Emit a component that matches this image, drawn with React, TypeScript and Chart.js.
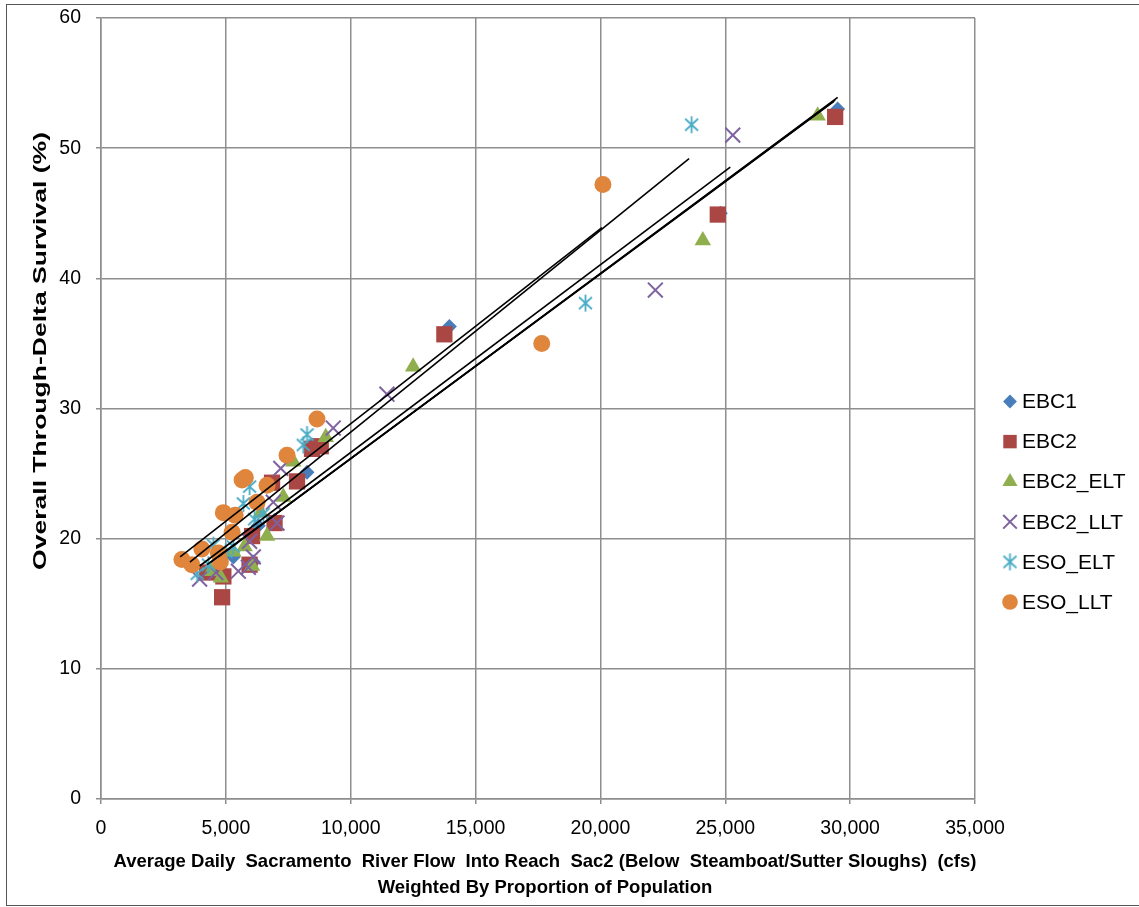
import React, { useEffect, useRef } from 'react';
import { Chart, registerables } from 'chart.js';
import { drawPoint } from 'chart.js/helpers';

Chart.register(...registerables);

// ---------- data ----------
const seriesNames = ['EBC1', 'EBC2', 'EBC2_ELT', 'EBC2_LLT', 'ESO_ELT', 'ESO_LLT'];

const ebc1X = [4700, 5300, 6100, 6300, 6950, 8250, 8450, 13950, 24800, 29500];
const ebc1Y = [17.3, 18.6, 18.2, 21.0, 21.4, 25.1, 27.2, 36.3, 45.0, 53.0];

const ebc2X = [4250, 4850, 4900, 5950, 6050, 6950, 6850, 7850, 8450, 8800, 13750, 24700, 29400];
const ebc2Y = [17.4, 15.5, 17.1, 18.0, 20.2, 21.2, 24.3, 24.4, 26.9, 27.1, 35.7, 44.9, 52.4];

const ebc2EltX = [4400, 4800, 5300, 5750, 6050, 6650, 6400, 7300, 7700, 9000, 12500, 24100, 28700];
const ebc2EltY = [17.5, 17.0, 19.0, 19.4, 17.9, 20.2, 22.0, 23.2, 25.9, 27.8, 33.2, 42.9, 52.5];

const ebc2LltX = [3950, 4600, 5500, 5900, 6100, 5950, 7050, 6900, 7200, 9300, 11450, 22200, 25300];
const ebc2LltY = [16.9, 17.4, 17.5, 17.8, 18.6, 19.8, 21.2, 22.8, 25.4, 28.5, 31.1, 39.1, 51.0];

const esoEltX = [3850, 4300, 4500, 5000, 5300, 5700, 5950, 6150, 6500, 8100, 8250, 19400, 23650];
const esoEltY = [17.3, 18.0, 19.5, 19.0, 19.4, 22.7, 24.0, 21.5, 21.9, 27.2, 28.0, 38.1, 51.8];

const esoLltX = [3240, 3640, 4040, 4700, 4780, 4900, 5250, 5370, 5650, 5780, 6250, 6650, 7450, 8650, 17650, 20100];
const esoLltY = [18.4, 18.0, 19.2, 18.9, 18.2, 22.0, 20.5, 21.8, 24.5, 24.7, 22.8, 24.1, 26.4, 29.2, 35.0, 47.2];

// linear trendline end points: [start, end]
const trendX = [
  [4700, 29500],
  [4250, 29400],
  [4400, 29350],
  [3950, 25200],
  [3560, 23550],
  [3170, 20060],
];
const trendY = [
  [18.6, 53.9],
  [18.0, 53.7],
  [18.2, 53.6],
  [17.9, 48.55],
  [18.2, 49.2],
  [18.6, 43.9],
];

const xTicks = [0, 5000, 10000, 15000, 20000, 25000, 30000, 35000];
const yTicks = [0, 10, 20, 30, 40, 50, 60];

const xTitle = [
  'Average Daily  Sacramento  River Flow  Into Reach  Sac2 (Below  Steamboat/Sutter Sloughs)  (cfs)',
  'Weighted By Proportion of Population',
];
const yTitle = 'Overall Through-Delta Survival (%)';

// ---------- styles ----------
const colors = ['#4A7EBB', '#AA4643', '#8FAF4F', '#7E62A1', '#4BACC6', '#DF853C'];

function makeAsterisk(color: string): HTMLCanvasElement {
  const c = document.createElement('canvas');
  c.width = 19;
  c.height = 19;
  const ctx = c.getContext('2d')!;
  ctx.strokeStyle = color;
  ctx.lineWidth = 1.8;
  ctx.beginPath();
  ctx.moveTo(9.5, 1);
  ctx.lineTo(9.5, 18);
  ctx.moveTo(3, 3.5);
  ctx.lineTo(16, 15.5);
  ctx.moveTo(16, 3.5);
  ctx.lineTo(3, 15.5);
  ctx.stroke();
  return c;
}

const FONT = "'Liberation Sans', Arial, sans-serif";

export default function App() {
  const ref = useRef<HTMLCanvasElement | null>(null);

  useEffect(() => {
    if (!ref.current) return;
    const asterisk = makeAsterisk(colors[4]);
    const xs = [ebc1X, ebc2X, ebc2EltX, ebc2LltX, esoEltX, esoLltX];
    const ys = [ebc1Y, ebc2Y, ebc2EltY, ebc2LltY, esoEltY, esoLltY];
    const styles: any[] = ['rectRot', 'rect', 'triangle', 'crossRot', asterisk, 'circle'];
    const radii = [7.5, 11.5, 9.5, 10.5, 9, 8.5];

    const scatterSets = seriesNames.map((name, i) => ({
      type: 'scatter' as const,
      label: name,
      data: xs[i].map((x, k) => ({ x, y: ys[i][k] })),
      pointStyle: styles[i],
      pointRadius: radii[i],
      backgroundColor: colors[i],
      borderColor: colors[i],
      borderWidth: i === 3 ? 2 : 0,
      order: 10 - i,
    }));

    const trendSets = seriesNames.map((name, i) => ({
      type: 'line' as const,
      label: name + ' trend',
      data: trendX[i].map((x, k) => ({ x, y: trendY[i][k] })),
      borderColor: '#000000',
      borderWidth: 1.6,
      pointRadius: 0,
      fill: false,
      order: 0,
    }));

    const legendPlugin = {
      id: 'sideLegend',
      afterDraw(chart: any) {
        const ctx = chart.ctx;
        ctx.save();
        ctx.font = `21px ${FONT}`;
        ctx.textBaseline = 'middle';
        ctx.textAlign = 'left';
        seriesNames.forEach((name, i) => {
          const y = 401.5 + i * 40.1;
          const ds = chart.data.datasets[i];
          ctx.fillStyle = colors[i];
          ctx.strokeStyle = colors[i];
          ctx.lineWidth = i === 3 ? 2 : 0;
          drawPoint(ctx, { pointStyle: ds.pointStyle, radius: i === 1 ? 9.5 : radii[i] * 0.92, borderWidth: i === 3 ? 2 : 0 } as any, 1010, y);
          ctx.fillStyle = '#000';
          ctx.fillText(name, 1022, y + 1);
        });
        ctx.restore();
      },
    };

    const titlePlugin = {
      id: 'axisTitles',
      afterDraw(chart: any) {
        const ctx = chart.ctx;
        ctx.save();
        ctx.fillStyle = '#000';
        ctx.textAlign = 'center';
        ctx.textBaseline = 'middle';
        // x-axis title (two lines)
        ctx.font = `bold 18.5px ${FONT}`;
        ctx.fillText(xTitle[0], 545, 862);
        ctx.fillText(xTitle[1], 545, 888);
        // y-axis title, rotated and widened along its baseline
        ctx.font = `bold 18px ${FONT}`;
        const w = ctx.measureText(yTitle).width;
        ctx.translate(41, 351);
        ctx.rotate(-Math.PI / 2);
        ctx.scale(438 / w, 1);
        ctx.fillText(yTitle, 0, 0);
        ctx.restore();
      },
    };

    const gridColor = '#8e8e8e';
    const chart = new Chart(ref.current, {
      type: 'scatter',
      data: { datasets: [...scatterSets, ...trendSets] as any },
      options: {
        responsive: false,
        animation: false,
        events: [],
        layout: { padding: { left: 0, top: 18, right: 164, bottom: 0 } },
        plugins: {
          legend: { display: false },
          tooltip: { enabled: false },
        },
        scales: {
          x: {
            type: 'linear',
            min: 0,
            max: 35000,
            afterBuildTicks: (s: any) => {
              s.ticks = xTicks.map((v) => ({ value: v }));
            },
            afterFit: (s: any) => {
              s.height = 108;
            },
            ticks: {
              color: '#000',
              font: { family: FONT, size: 19.5 },
              padding: 13,
              maxRotation: 0,
              callback: (v: any) => Number(v).toLocaleString('en-US'),
            },
            grid: { color: gridColor, lineWidth: 1.5, tickLength: 5, drawTicks: true },
            border: { display: true, color: gridColor, width: 1.5 },
          },
          y: {
            type: 'linear',
            min: 0,
            max: 60,
            afterBuildTicks: (s: any) => {
              s.ticks = yTicks.map((v) => ({ value: v }));
            },
            afterFit: (s: any) => {
              s.width = 101;
              s.paddingTop = 10;
              s.paddingBottom = 10;
            },
            ticks: {
              color: '#000',
              font: { family: FONT, size: 19.5 },
              padding: 15,
            },
            grid: { color: gridColor, lineWidth: 1.5, tickLength: 5, drawTicks: true },
            border: { display: true, color: gridColor, width: 1.5 },
          },
        },
      },
      plugins: [legendPlugin, titlePlugin],
    });
    return () => chart.destroy();
  }, []);

  return (
    <div style={{ position: 'fixed', left: 0, top: 0, width: 1139, height: 907, background: '#fff' }}>
      <canvas ref={ref} width={1139} height={907} style={{ position: 'absolute', left: 0, top: 0 }} />
      <div
        style={{
          position: 'absolute',
          left: 6,
          top: 4,
          width: 1150,
          height: 902,
          border: '1.5px solid #555',
          boxSizing: 'border-box',
          pointerEvents: 'none',
        }}
      />
    </div>
  );
}
